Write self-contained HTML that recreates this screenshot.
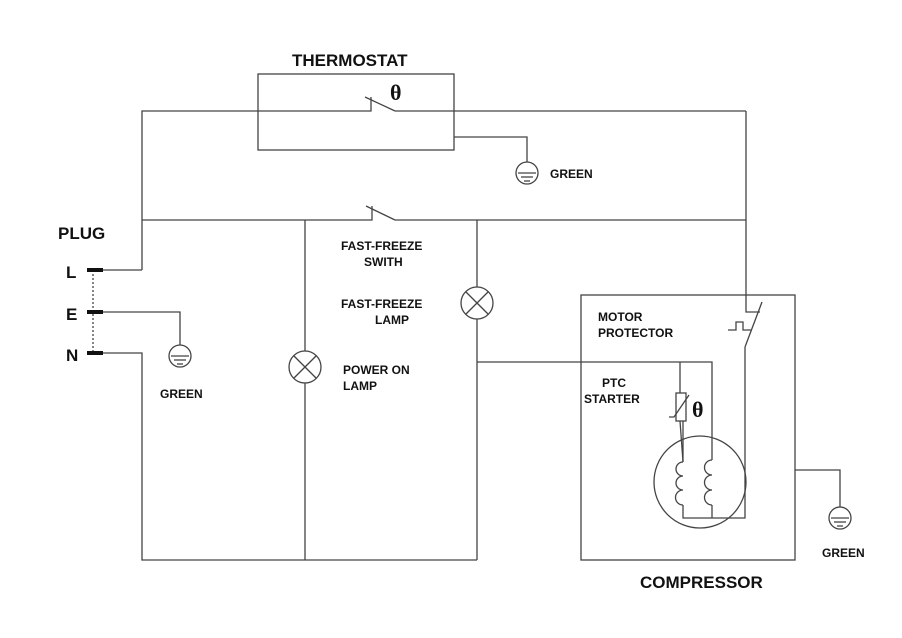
<!DOCTYPE html>
<html><head><style>
body{margin:0;background:#fff;}
svg{display:block;}
text{font-family:"Liberation Sans",sans-serif;font-weight:bold;fill:#111;}
</style></head><body>
<svg width="902" height="638" viewBox="0 0 902 638" xmlns="http://www.w3.org/2000/svg">
<g stroke="#444" stroke-width="1.3" fill="none">
<!-- thermostat box -->
<rect x="258" y="74" width="196" height="76"/>
<!-- top wire -->
<polyline points="142,270 142,111 371,111 371,97"/>
<line x1="365" y1="97" x2="395" y2="111"/>
<line x1="395" y1="111" x2="746" y2="111"/>
<!-- thermostat ground -->
<polyline points="454,137 527,137 527,162"/>
<!-- fast freeze switch line -->
<polyline points="142,220 372,220 372,206"/>
<line x1="366" y1="206" x2="395" y2="220"/>
<line x1="395" y1="220" x2="746" y2="220"/>
<!-- plug wires -->
<line x1="92" y1="270" x2="142" y2="270"/>
<polyline points="92,312 180,312 180,345"/>
<polyline points="92,353 142,353 142,560 477,560"/>
<line x1="93" y1="270" x2="93" y2="353" stroke-dasharray="2,2"/>
<!-- lamp verticals -->
<line x1="305" y1="220" x2="305" y2="351"/>
<line x1="305" y1="383" x2="305" y2="560"/>
<line x1="477" y1="220" x2="477" y2="287"/>
<line x1="477" y1="319" x2="477" y2="560"/>
<circle cx="305" cy="367" r="16"/>
<line x1="294" y1="356" x2="316" y2="378"/><line x1="316" y1="356" x2="294" y2="378"/>
<circle cx="477" cy="303" r="16"/>
<line x1="466" y1="292" x2="488" y2="314"/><line x1="488" y1="292" x2="466" y2="314"/>
<!-- to compressor -->
<polyline points="477,362 712,362 712,460"/>
<!-- compressor box -->
<rect x="581" y="295" width="214" height="265"/>
<!-- right wire and motor protector -->
<polyline points="746,111 746,312 760,312"/>
<line x1="762" y1="302" x2="745" y2="347"/>
<polyline points="728,330 736,330 736,322 743,322 743,330 751,330"/>
<polyline points="745,347 745,518 683,518 683,505"/>
<line x1="712" y1="505" x2="712" y2="518"/>
<!-- PTC -->
<line x1="680" y1="362" x2="680" y2="393"/>
<rect x="676" y="393" width="10" height="28"/>
<polyline points="669,417 674,417 689,395"/>
<line x1="680" y1="421" x2="683" y2="462"/>
<line x1="683" y1="421" x2="683" y2="462"/>
<!-- motor circle -->
<circle cx="700" cy="482" r="46"/>
<path d="M683,462 a7,7 0 0 0 0,14 a7,7 0 0 0 0,14 a7,7 0 0 0 0,15"/>
<path d="M712,460 a7,7 0 0 0 0,15 a7,7 0 0 0 0,15 a7,7 0 0 0 0,15"/>
<!-- compressor ground -->
<polyline points="795,470 840,470 840,507"/>
<!-- grounds -->
<g>
<circle cx="527" cy="173" r="11"/><line x1="518" y1="173" x2="536" y2="173"/><line x1="521" y1="177" x2="533" y2="177"/><line x1="524" y1="181" x2="530" y2="181"/>
</g>
<g>
<circle cx="180" cy="356" r="11"/><line x1="171" y1="356" x2="189" y2="356"/><line x1="174" y1="360" x2="186" y2="360"/><line x1="177" y1="364" x2="183" y2="364"/>
</g>
<g>
<circle cx="840" cy="518" r="11"/><line x1="831" y1="518" x2="849" y2="518"/><line x1="834" y1="522" x2="846" y2="522"/><line x1="837" y1="526" x2="843" y2="526"/>
</g>
</g>
<!-- terminals -->
<g fill="#111">
<rect x="87" y="268" width="16" height="4"/>
<rect x="87" y="310" width="16" height="4"/>
<rect x="87" y="351" width="16" height="4"/>
</g>
<text x="292" y="66" font-size="17" font-weight="normal">THERMOSTAT</text>
<text x="390" y="100" font-size="22" font-weight="normal" style="font-family:'Liberation Serif',serif">θ</text>
<text x="692" y="417" font-size="22" font-weight="normal" style="font-family:'Liberation Serif',serif">θ</text>
<text x="550" y="178" font-size="12">GREEN</text>
<text x="160" y="398" font-size="12">GREEN</text>
<text x="822" y="557" font-size="12">GREEN</text>
<text x="58" y="239" font-size="17" font-weight="normal">PLUG</text>
<text x="66" y="278" font-size="17">L</text>
<text x="66" y="320" font-size="17">E</text>
<text x="66" y="361" font-size="17">N</text>
<text x="341" y="250" font-size="12">FAST-FREEZE</text>
<text x="364" y="266" font-size="12">SWITH</text>
<text x="341" y="308" font-size="12">FAST-FREEZE</text>
<text x="375" y="324" font-size="12">LAMP</text>
<text x="343" y="374" font-size="12">POWER ON</text>
<text x="343" y="390" font-size="12">LAMP</text>
<text x="598" y="321" font-size="12">MOTOR</text>
<text x="598" y="337" font-size="12">PROTECTOR</text>
<text x="602" y="387" font-size="12">PTC</text>
<text x="584" y="403" font-size="12">STARTER</text>
<text x="640" y="588" font-size="17" font-weight="normal">COMPRESSOR</text>
</svg>
</body></html>
